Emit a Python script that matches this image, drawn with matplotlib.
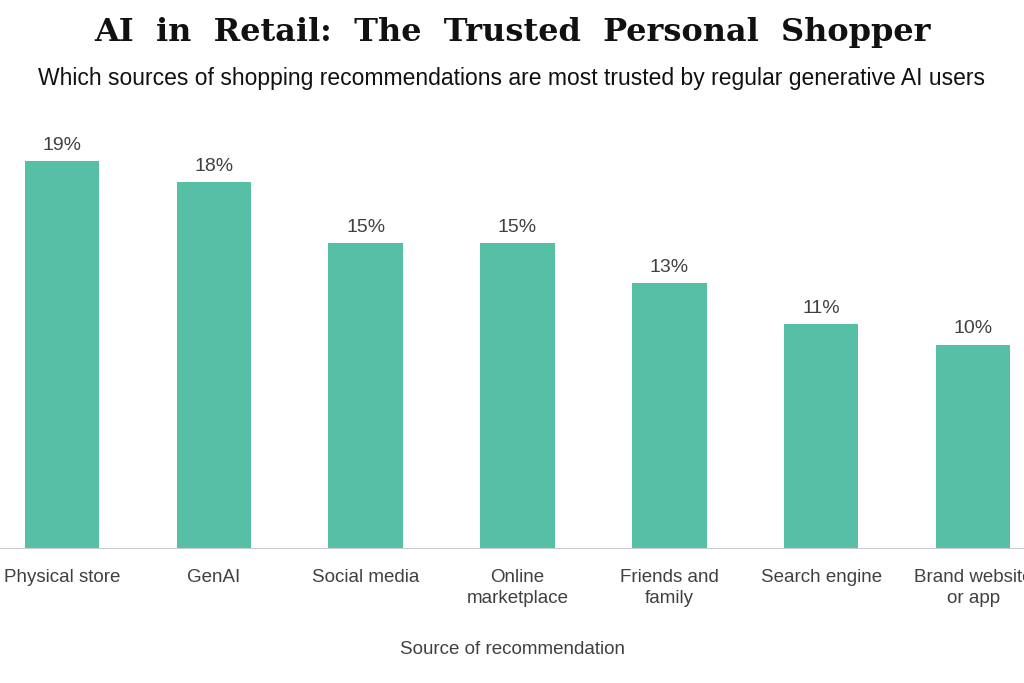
import matplotlib.pyplot as plt
plt.rcParams["font.family"] = "Liberation Sans"

categories = ["Physical store", "GenAI", "Social media", "Online\nmarketplace",
              "Friends and\nfamily", "Search engine", "Brand website\nor app"]
values = [19, 18, 15, 15, 13, 11, 10]

W, H = 1024, 683
fig = plt.figure(figsize=(W/100, H/100), dpi=100)
left, right = -14/W, 1049/W
bottom, top = 1 - 548/H, 1 - 141/H
ax = fig.add_axes([left, bottom, right-left, top-bottom])
x = range(len(categories))
ax.bar(x, values, width=0.49, color="#56BFA5")
for i, v in zip(x, values):
    ax.text(i, v + 0.35, f"{v}%", ha="center", va="bottom", fontsize=14, color="#404040")
ax.set_xlim(-0.5, 6.5)
ax.set_ylim(0, 20)
ax.set_yticks([])
ax.set_xticks(list(x))
ax.set_xticklabels(categories, fontsize=13.5, color="#404040", linespacing=1.3)
ax.tick_params(axis="x", length=0, pad=15)
for s in ["top", "right", "left"]:
    ax.spines[s].set_visible(False)
ax.spines["bottom"].set_color("#cccccc")
fig.text(0.5, 1 - 650/H, "Source of recommendation", ha="center", va="center",
         fontsize=13.5, color="#404040")
fig.text(0.5, 1 - 32/H, "AI  in  Retail:  The  Trusted  Personal  Shopper", ha="center",
         va="center", fontsize=23, fontweight="bold", family="DejaVu Serif", color="#111111")
fig.text(0.5, 1 - 78/H, "Which sources of shopping recommendations are most trusted by regular generative AI users",
         ha="center", va="center", fontsize=16.5, color="#111111")
fig.savefig("out.png", dpi=100)
